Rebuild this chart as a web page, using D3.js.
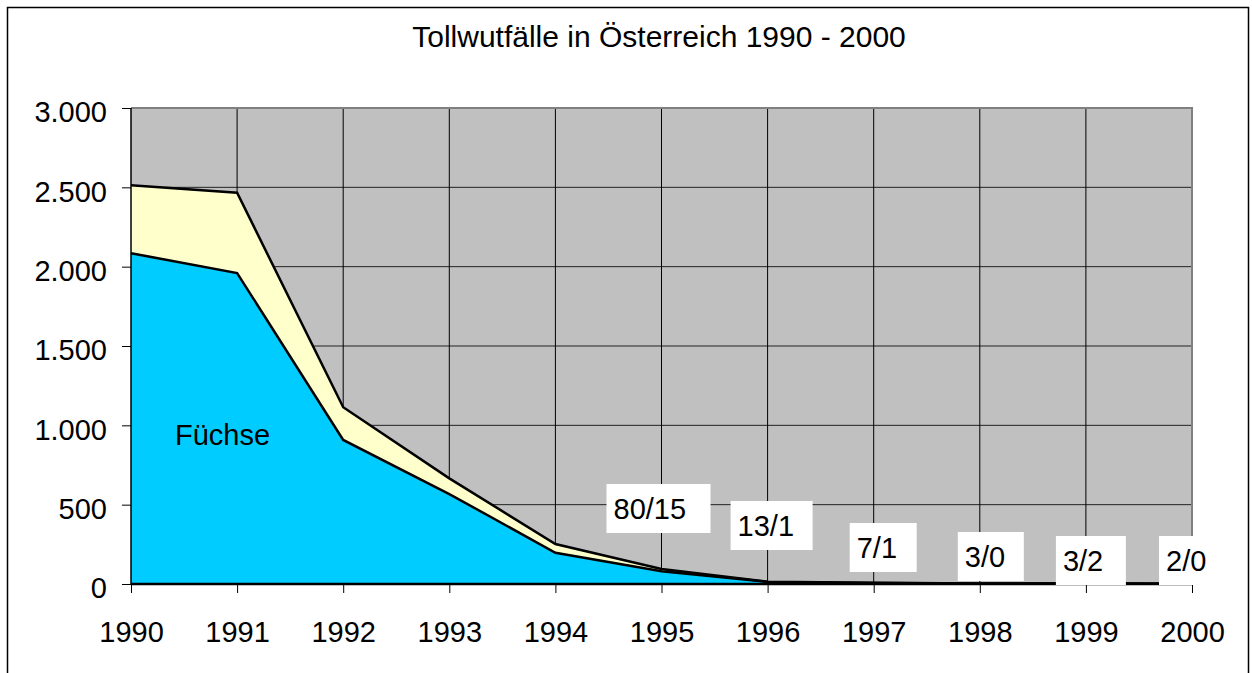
<!DOCTYPE html>
<html>
<head>
<meta charset="utf-8">
<script src="https://cdn.jsdelivr.net/npm/d3@7/dist/d3.min.js"></script>
<style>
  body { margin: 0; background: #fff; }
  text { font-family: "Liberation Sans", Arial, sans-serif; fill: #000; }
</style>
</head>
<body>
<div class="chart"></div>
<script>
var svgWidth = 1252;
var svgHeight = 673;

// data
var years = [1990, 1991, 1992, 1993, 1994, 1995, 1996, 1997, 1998, 1999, 2000];
var foxes = [2085, 1960, 908, 567, 197, 80, 13, 7, 3, 3, 2];
var others = [428, 506, 206, 99, 55, 15, 1, 1, 0, 2, 0];
var yTicks = [0, 500, 1000, 1500, 2000, 2500, 3000];
var labelYears = [1995, 1996, 1997, 1998, 1999, 2000];

// label box placement (pixels, relative to the year tick / zero line)
var labelDx = [-55, -37, -24, -22, -30, -33];
var labelDy = [-100, -83, -61, -52, -48, -48];
var labelW = [104, 82, 67, 66, 70, 54];

var margin = { top: 108, left: 131, right: 60, bottom: 89 };
var width = 1192 - margin.left;
var height = 584 - margin.top;
var fontSize = "29px";

var de = d3.formatLocale({ decimal: ",", thousands: ".", grouping: [3], currency: ["", " €"] });
var fmt = de.format(",");

var svg = d3.select(".chart").append("svg")
  .attr("width", svgWidth)
  .attr("height", svgHeight);

// outer frame
svg.append("rect")
  .attr("x", 7.5).attr("y", 7.5)
  .attr("width", 1241).attr("height", 720)
  .attr("fill", "#fff")
  .attr("stroke", "#000")
  .attr("stroke-width", 1.5);

svg.append("text")
  .attr("x", 659)
  .attr("y", 47)
  .attr("text-anchor", "middle")
  .attr("font-size", "30px")
  .text("Tollwutfälle in Österreich 1990 - 2000");

var chartGroup = svg.append("g")
  .attr("transform", `translate(${margin.left}, ${margin.top})`);

var x = d3.scaleLinear().domain([1990, 2000]).range([0, width]);
var y = d3.scaleLinear().domain([0, 3000]).range([height, 0]);

// plot area
chartGroup.append("rect")
  .attr("width", width).attr("height", height)
  .attr("fill", "#c0c0c0");

// gridlines
chartGroup.selectAll(".hgrid")
  .data(yTicks.slice(1, -1))
  .enter().append("line")
  .attr("x1", 0).attr("x2", width)
  .attr("y1", d => y(d)).attr("y2", d => y(d))
  .attr("stroke", "#222").attr("stroke-width", 1);

chartGroup.selectAll(".vgrid")
  .data(years.slice(1, -1))
  .enter().append("line")
  .attr("x1", d => x(d)).attr("x2", d => x(d))
  .attr("y1", 0).attr("y2", height)
  .attr("stroke", "#000").attr("stroke-width", 1);

// plot border top / right
chartGroup.append("path")
  .attr("d", `M0,0H${width}V${height}`)
  .attr("fill", "none")
  .attr("stroke", "#808080")
  .attr("stroke-width", 2);

var rows = years.map((yr, i) => ({ year: yr, foxes: foxes[i], others: others[i] }));
var stack = d3.stack().keys(["foxes", "others"]);
var series = stack(rows);
var fills = { foxes: "#00ccff", others: "#ffffcc" };

var area = d3.area()
  .x(d => x(d.data.year))
  .y0(d => y(d[0]))
  .y1(d => y(d[1]));

var topLine = d3.line()
  .x(d => x(d.data.year))
  .y(d => y(d[1]));

chartGroup.selectAll(".area")
  .data(series)
  .enter().append("path")
  .attr("d", area)
  .attr("fill", d => fills[d.key]);

chartGroup.selectAll(".edge")
  .data(series)
  .enter().append("path")
  .attr("d", topLine)
  .attr("fill", "none")
  .attr("stroke", "#000")
  .attr("stroke-width", 2.5)
  .attr("stroke-linejoin", "miter");

// axes
var leftAxis = d3.axisLeft(y).tickValues(yTicks).tickFormat(fmt).tickSize(9).tickPadding(15);
var bottomAxis = d3.axisBottom(x).tickValues(years).tickFormat(d3.format("d")).tickSize(9).tickPadding(28);

var yAxis = chartGroup.append("g").call(leftAxis);
yAxis.select(".domain").attr("stroke", "#000").attr("stroke-width", 1.5).attr("d", `M0,${height}V0`);
yAxis.selectAll("text").attr("font-size", fontSize).attr("font-family", "Liberation Sans, Arial, sans-serif").attr("dy", "0.48em");

var xAxis = chartGroup.append("g")
  .attr("transform", `translate(0, ${height})`)
  .call(bottomAxis);
xAxis.select(".domain").attr("stroke", "#000").attr("stroke-width", 2.5).attr("d", `M0,0H${width}`);
xAxis.selectAll("line").attr("stroke", "#000");
xAxis.selectAll("text").attr("font-size", fontSize).attr("font-family", "Liberation Sans, Arial, sans-serif");

// Füchse label
chartGroup.append("text")
  .attr("x", 175 - margin.left)
  .attr("y", 445 - margin.top)
  .attr("font-size", fontSize)
  .text("Füchse");

// data labels foxes / others
var labels = chartGroup.selectAll(".dlabel")
  .data(labelYears)
  .enter().append("g")
  .attr("transform", (d, i) => `translate(${x(d) + labelDx[i]}, ${y(0) + labelDy[i]})`);

labels.append("rect")
  .attr("width", (d, i) => labelW[i])
  .attr("height", 49)
  .attr("fill", "#fff");

labels.append("text")
  .attr("x", 7)
  .attr("y", 35)
  .attr("font-size", fontSize)
  .text(d => {
    var i = years.indexOf(d);
    return foxes[i] + "/" + others[i];
  });
</script>
</body>
</html>
